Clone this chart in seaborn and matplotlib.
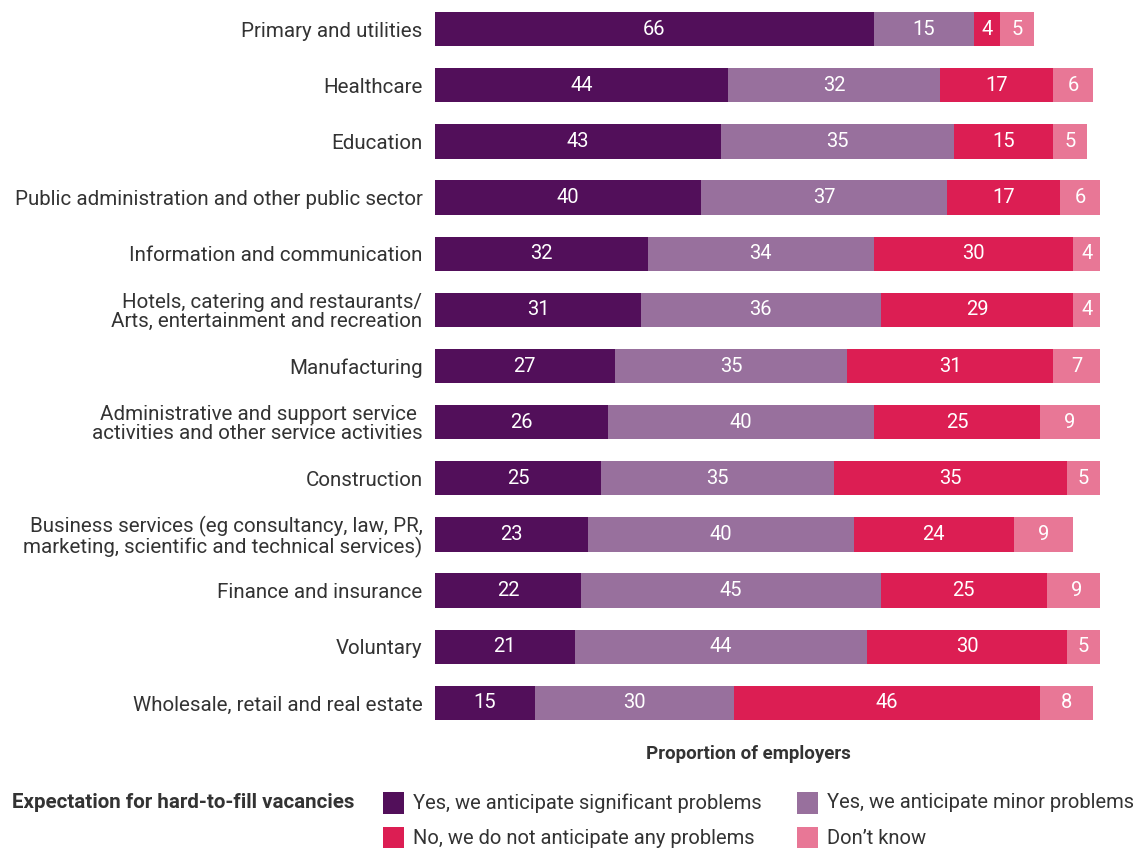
import matplotlib
matplotlib.use("Agg")
import matplotlib.pyplot as plt
from matplotlib.patches import Rectangle
import numpy as np
import pandas as pd
import seaborn as sns

sectors = [
    "Primary and utilities",
    "Healthcare",
    "Education",
    "Public administration and other public sector",
    "Information and communication",
    "Hotels, catering and restaurants/\nArts, entertainment and recreation",
    "Manufacturing",
    "Administrative and support service \nactivities and other service activities",
    "Construction",
    "Business services (eg consultancy, law, PR,\nmarketing, scientific and technical services)",
    "Finance and insurance",
    "Voluntary",
    "Wholesale, retail and real estate",
]
significant = [66, 44, 43, 40, 32, 31, 27, 26, 25, 23, 22, 21, 15]
minor = [15, 32, 35, 37, 34, 36, 35, 40, 35, 40, 45, 44, 30]
no_problems = [4, 17, 15, 17, 30, 29, 31, 25, 35, 24, 25, 30, 46]
dont_know = [5, 6, 5, 6, 4, 4, 7, 9, 5, 9, 9, 5, 8]

series_names = [
    "Yes, we anticipate significant problems",
    "Yes, we anticipate minor problems",
    "No, we do not anticipate any problems",
    "Don\u2019t know",
]
series_values = [significant, minor, no_problems, dont_know]
colors = ["#520f5a", "#98709d", "#dc1e53", "#e87796"]

FONT = ["Roboto", "DejaVu Sans"]
sns.set_theme(style="white")
plt.rcParams["font.family"] = FONT

df = pd.DataFrame({"sector": sectors})
for name, vals in zip(series_names, series_values):
    df[name] = vals
cum = df[series_names].cumsum(axis=1)

fig = plt.figure(figsize=(11.39, 8.48), dpi=100)
ax = fig.add_axes([435 / 1139, 1 - 731 / 848, 665 / 1139, 730 / 848])

# stacked bars: draw cumulative totals from the last segment to the first
for name, col in reversed(list(zip(series_names, colors))):
    sns.barplot(x=cum[name], y=df["sector"], orient="h", color=col,
                saturation=1, width=0.61, ax=ax, order=sectors, linewidth=0)

# value labels centred in each segment
starts = cum[series_names].shift(1, axis=1).fillna(0)
for i in range(len(sectors)):
    for name in series_names:
        v = df.loc[i, name]
        x = starts.loc[i, name] + v / 2
        ax.text(x, i, f"{v}", ha="center", va="center", color="white",
                fontsize=14.5, family=FONT)

ax.set_xlim(0, 100)
ax.set_ylim(len(sectors) - 0.5, -0.5)
ax.set_xticks([])
ax.set_xlabel("")
ax.set_ylabel("")
for s in ax.spines.values():
    s.set_visible(False)
ax.tick_params(axis="y", length=0, pad=9, labelsize=14.8, labelcolor="#333333")
for lab in ax.get_yticklabels():
    lab.set_linespacing(1.0)

fig.text(748 / 1139, 1 - 754 / 848, "Proportion of employers", ha="center",
         va="center", fontsize=13.5, fontweight="bold", color="#333333", family=FONT)

# legend
fig.text(12 / 1139, 1 - 803 / 848, "Expectation for hard-to-fill vacancies",
         ha="left", va="center", fontsize=14.8, fontweight="bold",
         color="#333333", family=FONT)
legend_pos = [(383, 803), (797, 803), (383, 838), (797, 838)]
for (px, py), name, col in zip(legend_pos, series_names, colors):
    fig.add_artist(Rectangle((px / 1139, 1 - (py + 11) / 848), 21 / 1139, 22 / 848,
                             transform=fig.transFigure, facecolor=col,
                             edgecolor="none"))
    fig.text((px + 30) / 1139, 1 - py / 848, name, ha="left", va="center",
             fontsize=14.5, color="#333333", family=FONT)

fig.savefig("out.png", dpi=100)
